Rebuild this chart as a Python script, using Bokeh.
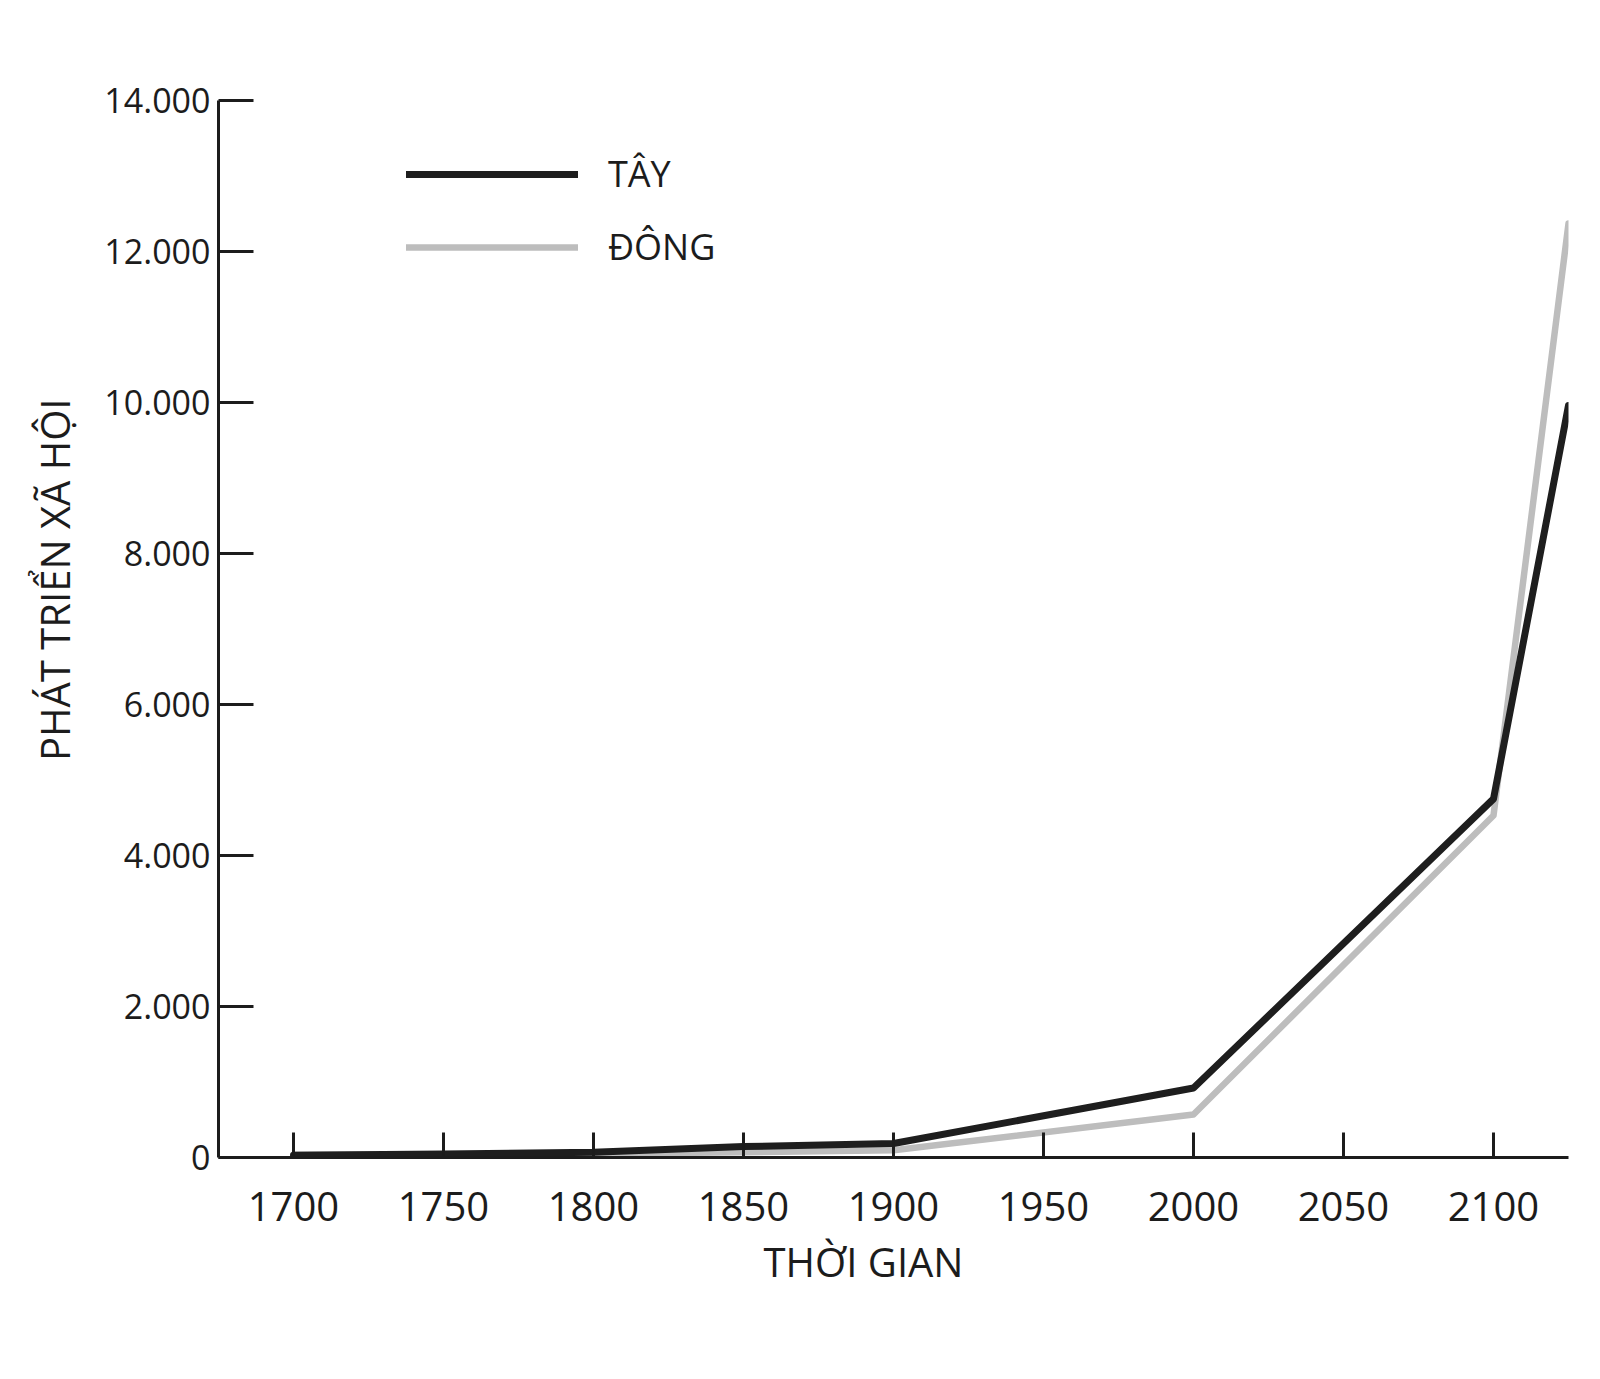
from bokeh.plotting import figure
from bokeh.models import Range1d, FixedTicker, Legend, LegendItem, Title
from bokeh.embed import file_html
from bokeh.resources import INLINE

# ---- data ----
years = [1700, 1750, 1800, 1850, 1900, 2000, 2100, 2125]
west = [30, 45, 70, 145, 185, 920, 4750, 9960]      # TÂY
east = [35, 40, 50, 70, 95, 570, 4530, 12370]       # ĐÔNG
series_names = ["TÂY", "ĐÔNG"]

x_ticks = [1700, 1750, 1800, 1850, 1900, 1950, 2000, 2050, 2100]
y_ticks = [0, 2000, 4000, 6000, 8000, 10000, 12000, 14000]
y_tick_labels = ["0", "2.000", "4.000", "6.000", "8.000", "10.000", "12.000", "14.000"]

x_title = "THỜI GIAN"
y_title = "PHÁT TRIỂN XÃ HỘI"

FONT = "Open Sans"
INK = "#1c1c1c"

p = figure(width=1588, height=1340, output_backend="svg", toolbar_location=None,
           x_range=Range1d(1675, 2125), y_range=Range1d(0, 14000),
           min_border_left=218, min_border_right=20, min_border_top=100,
           min_border_bottom=183)
p.outline_line_color = None
p.xgrid.visible = False
p.ygrid.visible = False
p.background_fill_color = "white"
p.border_fill_color = "white"

# axes
for ax in (p.xaxis[0], p.yaxis[0]):
    ax.axis_line_color = INK
    ax.axis_line_width = 3
    ax.major_tick_line_color = INK
    ax.major_tick_line_width = 3
    ax.minor_tick_line_color = None
    ax.major_tick_out = 0
    ax.major_label_text_font = FONT
    ax.major_label_text_color = INK

p.xaxis.ticker = FixedTicker(ticks=x_ticks)
p.xaxis.major_tick_in = 25
p.xaxis.major_label_text_font_size = "40px"
p.xaxis.major_label_standoff = 34

p.yaxis.ticker = FixedTicker(ticks=y_ticks)
p.yaxis.major_label_overrides = {t: l for t, l in zip(y_ticks, y_tick_labels)}
p.yaxis.major_tick_in = 35
p.yaxis.major_label_text_font_size = "34px"
p.yaxis.major_label_standoff = 8

# axis titles (placed off-centre as in the original)
p.add_layout(Title(text=x_title, align="left", offset=545, standoff=16,
                   text_font=FONT, text_font_size="40px", text_font_style="normal",
                   text_color=INK), "below")
p.add_layout(Title(text=y_title, align="right", offset=298, standoff=40,
                   text_font=FONT, text_font_size="40px", text_font_style="normal",
                   text_color=INK), "left")

r_east = p.line(years, east, line_color="#bdbdbd", line_width=6.5,
                line_join="round", line_cap="round")
r_west = p.line(years, west, line_color="#1e1e1e", line_width=7,
                line_join="round", line_cap="round")

legend = Legend(items=[LegendItem(label=series_names[0], renderers=[r_west]),
                       LegendItem(label=series_names[1], renderers=[r_east])],
                location=(188, 886), orientation="vertical",
                glyph_width=172, glyph_height=48, label_height=48,
                label_standoff=30, spacing=24, padding=0, margin=0,
                border_line_color=None, background_fill_color=None,
                label_text_font=FONT, label_text_font_size="36px",
                label_text_color=INK)
p.add_layout(legend, "center")

open("out.html", "w").write(file_html(p, INLINE))
